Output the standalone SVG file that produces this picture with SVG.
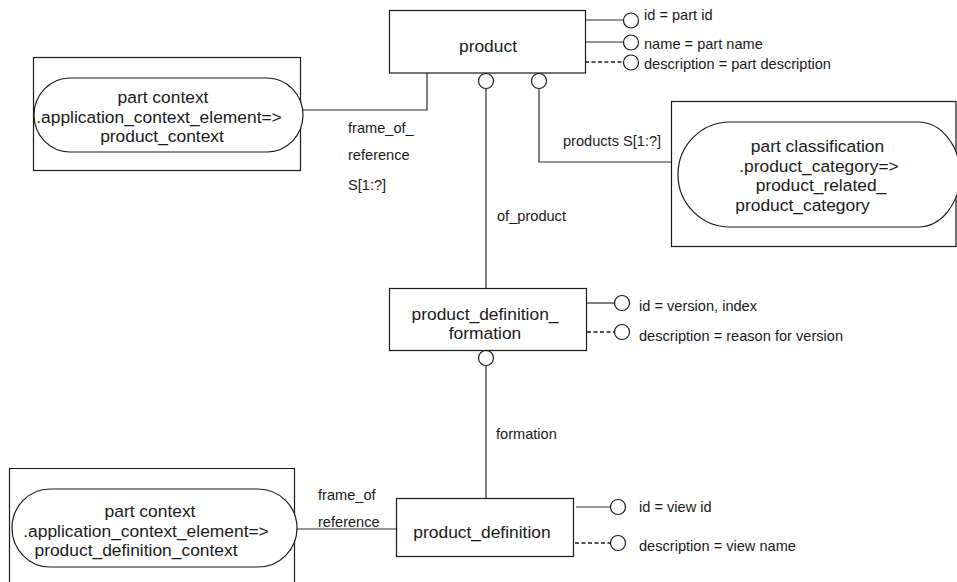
<svg xmlns="http://www.w3.org/2000/svg" width="957" height="582" viewBox="0 0 957 582">
  <style>
    .box { fill: #fff; stroke: #1a1a1a; stroke-width: 1.2; }
    .ln { fill: none; stroke: #2a2a2a; stroke-width: 1.2; }
    .dash { fill: none; stroke: #1a1a1a; stroke-width: 1.4; stroke-dasharray: 4 2.5; }
    .ring { fill: #fff; stroke: #1a1a1a; stroke-width: 1.2; }
    .name { font-family: "Liberation Sans", Arial, sans-serif; font-size: 17.4px; fill: #1a1a1a; text-anchor: middle; }
    .lbl { font-family: "Liberation Sans", Arial, sans-serif; font-size: 14.6px; fill: #1a1a1a; }
  </style>

  <!-- connectors between entities -->
  <g id="connectors">
    <path class="ln" d="M303,110 H427 V73"/>
    <path class="ln" d="M486,89 V288"/>
    <circle class="ring" cx="486" cy="81" r="7.5"/>
    <path class="ln" d="M539,89 V162 H679"/>
    <circle class="ring" cx="539" cy="81" r="7.5"/>
    <path class="ln" d="M486,366 V498"/>
    <circle class="ring" cx="486" cy="358" r="7.5"/>
    <path class="ln" d="M297,529 H396"/>
    <text class="lbl" x="348" y="133">frame_of_</text>
    <text class="lbl" x="348" y="160">reference</text>
    <text class="lbl" x="348" y="190">S[1:?]</text>
    <text class="lbl" x="563" y="146">products S[1:?]</text>
    <text class="lbl" x="497" y="221">of_product</text>
    <text class="lbl" x="496" y="439">formation</text>
    <text class="lbl" x="318" y="500">frame_of</text>
    <text class="lbl" x="318" y="527">reference</text>
  </g>

  <!-- product entity and its attributes -->
  <g id="product">
    <rect class="box" x="389.5" y="10.5" width="196" height="62.5"/>
    <text class="name" x="488" y="52">product</text>
    <path class="ln" d="M585,20 H623.5"/>
    <circle class="ring" cx="631" cy="20.5" r="7.5"/>
    <text class="lbl" x="644" y="20">id = part id</text>
    <path class="ln" d="M585,42 H623.5"/>
    <circle class="ring" cx="631" cy="42.5" r="7.5"/>
    <text class="lbl" x="644" y="49">name = part name</text>
    <path class="dash" d="M585,62 H623.5"/>
    <circle class="ring" cx="631" cy="62.5" r="7.5"/>
    <text class="lbl" x="644" y="69">description = part description</text>
  </g>

  <!-- part context (product_context) -->
  <g id="part-context-product">
    <rect class="box" x="33.5" y="57.5" width="267" height="113"/>
    <path class="box" d="M70,78 H267 A36,37 0 0 1 267,152 H70 A36,37 0 0 1 70,78 Z"/>
    <text class="name" x="163" y="103">part context</text>
    <text class="name" x="159" y="123">.application_context_element=&gt;</text>
    <text class="name" x="162" y="142">product_context</text>
  </g>

  <!-- part classification -->
  <g id="part-classification">
    <rect class="box" x="671.5" y="101.5" width="284.5" height="145"/>
    <path class="box" d="M730,122 H918 A42,52.5 0 0 1 918,227 H730 A52,52.5 0 0 1 730,122 Z"/>
    <text class="name" x="817.5" y="152">part classification</text>
    <text class="name" x="819" y="172">.product_category=&gt;</text>
    <text class="name" x="821" y="191">product_related_</text>
    <text class="name" x="802.5" y="210.5">product_category</text>
  </g>

  <!-- product_definition_formation -->
  <g id="product-definition-formation">
    <rect class="box" x="389.5" y="288.5" width="197" height="62"/>
    <text class="name" x="485" y="320">product_definition_</text>
    <text class="name" x="485" y="339">formation</text>
    <path class="ln" d="M587,303 H614.5"/>
    <circle class="ring" cx="622" cy="303" r="7.5"/>
    <text class="lbl" x="639" y="311">id = version, index</text>
    <path class="dash" d="M587,332 H614.5"/>
    <circle class="ring" cx="622" cy="332" r="7.5"/>
    <text class="lbl" x="639" y="341">description = reason for version</text>
  </g>

  <!-- product_definition -->
  <g id="product-definition">
    <rect class="box" x="396.5" y="498.5" width="177" height="58"/>
    <text class="name" x="482" y="538">product_definition</text>
    <path class="ln" d="M576,507 H610.5"/>
    <circle class="ring" cx="618" cy="507" r="7.5"/>
    <text class="lbl" x="639" y="512">id = view id</text>
    <path class="dash" d="M575,543 H610.5"/>
    <circle class="ring" cx="618" cy="543" r="7.5"/>
    <text class="lbl" x="639" y="551">description = view name</text>
  </g>

  <!-- part context (product_definition_context) -->
  <g id="part-context-definition">
    <path class="box" d="M9.5,582 V468.5 H294.5 V582"/>
    <path class="box" d="M50,489 H258 A39,39 0 0 1 258,567 H50 A38,39 0 0 1 50,489 Z"/>
    <text class="name" x="150" y="517">part context</text>
    <text class="name" x="146" y="537">.application_context_element=&gt;</text>
    <text class="name" x="136" y="556">product_definition_context</text>
  </g>
</svg>
